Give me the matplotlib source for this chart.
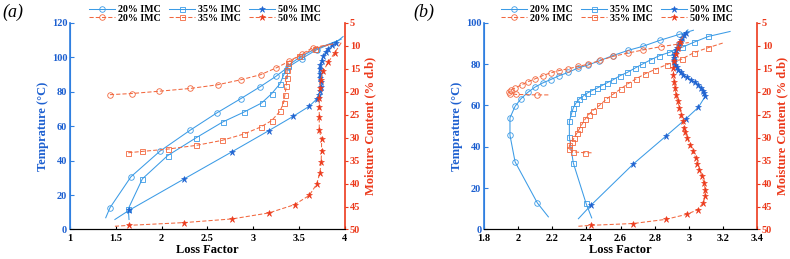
import matplotlib
matplotlib.use("Agg")
import matplotlib.pyplot as plt

plt.rcParams['font.family'] = ['Liberation Serif', 'DejaVu Serif']
plt.rcParams['font.weight'] = 'bold'

BLUE = '#3b9be6'
BLUE_D = '#1f62d0'
RED = '#f2683f'
RED_D = '#ec3a1c'

# ---------------- panel (a) ----------------
a_x_ticks = [1, 1.5, 2, 2.5, 3, 3.5, 4]
a_x_labels = ['1', '1.5', '2', '2.5', '3', '3.5', '4']
a_t_ticks = [0, 20, 40, 60, 80, 100, 120]

# temperature curves (first / last point = unmarked line ends)
a_t20_lf = [1.39, 1.436, 1.665, 1.98, 2.31, 2.60, 2.862, 3.07, 3.247, 3.38, 3.528, 3.69, 3.96]
a_t20_t = [6.8, 12.6, 30.6, 45.4, 57.6, 67.6, 75.9, 82.7, 88.9, 94.3, 99.2, 104.3, 110.5]
a_t35_lf = [1.644, 1.636, 1.79, 2.066, 2.375, 2.666, 2.90, 3.09, 3.20, 3.29, 3.33, 3.36, 3.38, 3.52, 3.68, 3.92]
a_t35_t = [5.8, 12.0, 29.4, 42.9, 53.2, 62.4, 68.2, 73.4, 78.8, 84.5, 89.5, 92.8, 95.2, 100.5, 104.8, 109.5]
a_t50_lf = [1.49, 1.647, 2.247, 2.764, 3.17, 3.436, 3.61, 3.69, 3.715, 3.73, 3.737, 3.735, 3.728, 3.724,
            3.725, 3.732, 3.745, 3.765, 3.79, 3.82, 3.86, 3.90, 3.98]
a_t50_t = [5.8, 11.2, 29.4, 45.0, 57.4, 65.7, 71.5, 75.6, 78.0, 80.5, 83.0, 85.5, 88.0, 90.5,
           93.0, 95.5, 98.0, 100.5, 103.0, 105.0, 107.0, 108.5, 112.0]

# moisture curves
a_m20_lf = [1.436, 1.673, 1.974, 2.31, 2.61, 2.865, 3.08, 3.247, 3.39, 3.53, 3.65, 3.87]
a_m20_mc = [20.65, 20.4, 19.9, 19.3, 18.5, 17.4, 16.3, 14.85, 13.4, 11.8, 10.4, 9.6]
a_m35_lf = [1.636, 1.79, 2.066, 2.375, 2.66, 2.90, 3.08, 3.20, 3.29, 3.33, 3.345, 3.36, 3.364, 3.37,
            3.38, 3.50, 3.67, 3.87]
a_m35_mc = [33.3, 33.0, 32.5, 31.7, 30.6, 29.2, 27.7, 26.3, 24.3, 22.5, 20.7, 18.8, 17.0, 15.2,
            13.8, 12.2, 10.6, 9.6]
a_m50_lf = [1.49, 1.647, 2.247, 2.77, 3.17, 3.45, 3.61, 3.69, 3.727, 3.74, 3.745, 3.745, 3.72, 3.72,
            3.72, 3.72, 3.727, 3.735, 3.765, 3.82, 3.89, 3.97]
a_m50_mc = [49.3, 49.1, 48.5, 47.7, 46.4, 44.6, 42.6, 40.2, 37.7, 35.4, 33.0, 30.4, 28.3, 25.5,
            23.3, 21.4, 19.2, 17.4, 15.5, 13.5, 11.5, 9.0]

# ---------------- panel (b) ----------------
b_x_ticks = [1.8, 2, 2.2, 2.4, 2.6, 2.8, 3, 3.2, 3.4]
b_x_labels = ['1.8', '2', '2.2', '2.4', '2.6', '2.8', '3', '3.2', '3.4']
b_t_ticks = [0, 20, 40, 60, 80, 100]

b_t20_lf = [2.177, 2.112, 1.982, 1.952, 1.952, 1.982, 2.017, 2.056, 2.099, 2.144, 2.19, 2.24, 2.294,
            2.349, 2.411, 2.476, 2.554, 2.642, 2.73, 2.83, 2.945, 3.027]
b_t20_t = [6.1, 12.9, 32.7, 45.6, 54.0, 59.6, 63.3, 66.3, 68.9, 70.9, 72.5, 74.4, 76.0,
           78.1, 79.6, 81.6, 84.1, 86.6, 88.6, 91.5, 94.4, 96.4]
b_t35_lf = [2.431, 2.398, 2.323, 2.30, 2.30, 2.314, 2.323, 2.339, 2.357, 2.379, 2.402, 2.431, 2.46,
            2.49, 2.519, 2.558, 2.597, 2.64, 2.685, 2.728, 2.777, 2.828, 2.886, 2.959, 3.033, 3.115, 3.242]
b_t35_t = [5.6, 12.6, 32.2, 44.8, 52.3, 56.4, 58.8, 61.2, 63.1, 64.4, 65.9, 67.1, 68.3,
           69.6, 70.9, 72.5, 74.4, 76.0, 78.1, 80.0, 82.1, 84.1, 85.7, 88.1, 90.7, 93.4, 95.8]
b_t50_lf = [2.353, 2.425, 2.675, 2.865, 2.984, 3.056, 3.096, 3.092, 3.085, 3.072, 3.056, 3.035, 3.013,
            2.99, 2.968, 2.952, 2.938, 2.928, 2.92, 2.915, 2.913, 2.914, 2.916, 2.919, 2.924, 2.93,
            2.937, 2.945, 2.953, 2.962, 2.972, 2.983, 2.995]
b_t50_t = [5.2, 11.6, 31.7, 45.1, 53.6, 59.1, 64.4, 65.8, 67.2, 68.6, 70.0, 71.2, 72.4,
           73.6, 74.8, 76.0, 77.2, 78.4, 79.6, 80.8, 82.0, 83.2, 84.4, 85.6, 86.8, 88.0,
           89.2, 90.4, 91.6, 92.8, 94.0, 95.2, 96.6]

b_m20_lf = [2.177, 2.11, 1.99, 1.952, 1.945, 1.958, 1.982, 2.02, 2.06, 2.099, 2.144, 2.19, 2.241,
            2.294, 2.353, 2.411, 2.48, 2.558, 2.642, 2.734, 2.836, 2.945, 3.0]
b_m20_mc = [20.7, 20.7, 20.6, 20.4, 20.0, 19.6, 19.2, 18.5, 17.8, 17.2, 16.5, 15.9, 15.4,
            15.0, 14.5, 14.0, 13.2, 12.3, 11.6, 10.9, 10.2, 9.6, 9.3]
b_m35_lf = [2.43, 2.392, 2.323, 2.30, 2.30, 2.314, 2.327, 2.343, 2.357, 2.374, 2.392, 2.413, 2.437,
            2.476, 2.515, 2.558, 2.601, 2.642, 2.691, 2.744, 2.80, 2.871, 2.959, 3.03, 3.115, 3.20]
b_m35_mc = [33.3, 33.3, 33.1, 32.5, 31.7, 31.0, 30.1, 29.1, 28.2, 27.1, 26.0, 25.0, 24.1,
            23.0, 21.7, 20.5, 19.4, 18.3, 17.2, 16.1, 15.2, 14.1, 12.9, 11.5, 10.4, 9.4]
b_m50_lf = [2.353, 2.425, 2.675, 2.865, 2.988, 3.052, 3.085, 3.096, 3.096, 3.09, 3.076, 3.062, 3.05,
            3.04, 3.023, 3.007, 2.991, 2.978, 2.972, 2.965, 2.955, 2.945, 2.935, 2.925, 2.92, 2.914,
            2.91, 2.91, 2.914, 2.924, 2.935, 2.949, 2.965]
b_m50_mc = [49.3, 49.1, 48.7, 47.8, 46.7, 45.7, 44.2, 42.8, 41.3, 39.9, 38.4, 37.0, 35.7,
            34.4, 33.0, 31.5, 30.1, 28.8, 27.9, 26.4, 25.0, 23.5, 22.1, 20.7, 19.2, 17.8,
            16.3, 14.8, 13.4, 11.9, 10.5, 9.1, 8.0]

mc_ticks = [5, 10, 15, 20, 25, 30, 35, 40, 45, 50]
legend_labels = ['20% IMC', '35% IMC', '50% IMC']


def draw(ax, x, y, color, mcolor, marker, ls, me, ms):
    filled = marker == '*'
    return ax.plot(x, y, color=color, ls=ls, lw=0.75, marker=marker, markevery=me,
                   ms=ms, mec=mcolor, mew=0.6 if not filled else 0.4,
                   mfc=mcolor if filled else 'none', dashes=(4, 2) if ls == '--' else (None, None))[0]


def panel(ax, xticks, xlabels, tticks, curves_t, curves_m, leg_x):
    ax2 = ax.twinx()
    mk = ['o', 's', '*']
    ms = [4.0, 3.6, 4.8]
    ht, hm = [], []
    for i, (x, y, me) in enumerate(curves_t):
        c = BLUE_D if i == 2 else BLUE
        ht.append(draw(ax, x, y, BLUE, c, mk[i], '-', me, ms[i]))
    for i, (x, y, me) in enumerate(curves_m):
        c = RED_D if i == 2 else RED
        hm.append(draw(ax2, x, y, RED, c, mk[i], '--', me, ms[i]))

    ax.set_xlim(xticks[0], xticks[-1])
    ax.set_ylim(tticks[0], tticks[-1])
    ax.set_xticks(xticks)
    ax.set_xticklabels(xlabels)
    ax.set_yticks(tticks)
    ax2.set_ylim(50, 5)
    ax2.set_yticks(mc_ticks)

    ax.set_xlabel('Loss Factor', fontsize=9, fontweight='bold', labelpad=1)
    ax.set_ylabel('Temprature (°C)', fontsize=9, fontweight='bold', color='#1c5fd0', labelpad=2)
    ax2.set_ylabel('Moisture Content (% d.b)', fontsize=9, fontweight='bold', color=RED_D, labelpad=3)

    for a in (ax, ax2):
        a.spines['top'].set_visible(False)
    ax.spines['right'].set_visible(False)
    ax2.spines['left'].set_color('#2f7fe0')
    ax2.spines['right'].set_color(RED_D)
    ax2.spines['bottom'].set_color('black')
    ax.spines['left'].set_color('#2f7fe0')
    ax.spines['left'].set_linewidth(1.2)
    ax2.spines['right'].set_linewidth(1.2)

    ax.tick_params(axis='x', direction='in', length=2.5, labelsize=7.5, pad=3)
    ax.tick_params(axis='y', direction='in', length=3, labelsize=7.5, colors='#2f7fe0',
                   labelcolor='#1c5fd0', pad=2)
    ax2.tick_params(axis='y', direction='out', length=2.5, labelsize=7.5, colors=RED_D, pad=1)

    handles = [ht[0], hm[0], ht[1], hm[1], ht[2], hm[2]]
    labels = [legend_labels[0], legend_labels[0], legend_labels[1], legend_labels[1],
              legend_labels[2], legend_labels[2]]
    ax2.legend(handles, labels, ncol=3, loc='lower center', bbox_to_anchor=(leg_x, 1.0),
               frameon=False, fontsize=7.2, handlelength=2.6, handletextpad=0.3,
               columnspacing=0.8, labelspacing=-0.05, borderaxespad=0, borderpad=0.0)


fig = plt.figure(figsize=(7.9, 2.59), dpi=100)
ax_a = fig.add_axes([0.0886, 0.114, 0.348, 0.798])
ax_b = fig.add_axes([0.6127, 0.114, 0.3456, 0.798])

ends = slice(1, -1)
panel(ax_a, a_x_ticks, a_x_labels, a_t_ticks,
      [(a_t20_lf, a_t20_t, ends), (a_t35_lf, a_t35_t, ends), (a_t50_lf, a_t50_t, ends)],
      [(a_m20_lf, a_m20_mc, slice(0, -1)), (a_m35_lf, a_m35_mc, slice(0, -1)),
       (a_m50_lf, a_m50_mc, ends)], 0.49)
panel(ax_b, b_x_ticks, b_x_labels, b_t_ticks,
      [(b_t20_lf, b_t20_t, ends), (b_t35_lf, b_t35_t, ends), (b_t50_lf, b_t50_t, ends)],
      [(b_m20_lf, b_m20_mc, ends), (b_m35_lf, b_m35_mc, ends), (b_m50_lf, b_m50_mc, ends)], 0.487)

fig.text(0.003, 0.985, '(a)', fontsize=13, style='italic', fontweight='normal', va='top')
fig.text(0.523, 0.985, '(b)', fontsize=13, style='italic', fontweight='normal', va='top')

fig.savefig('out.png', dpi=100)
